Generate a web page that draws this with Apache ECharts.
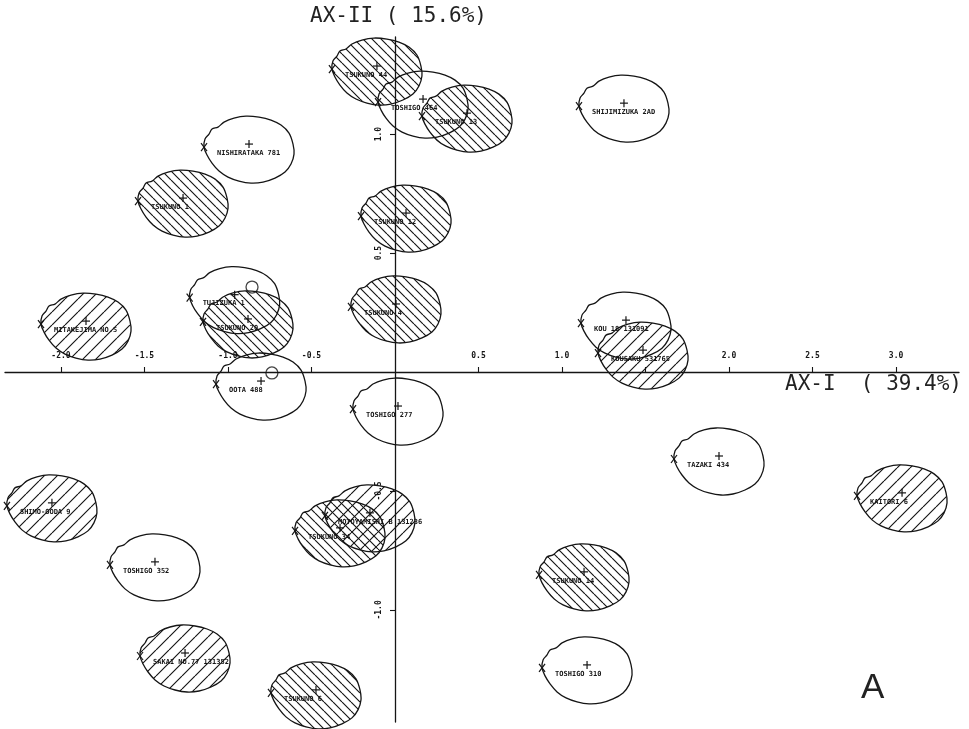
<!DOCTYPE html>
<html>
<head>
<meta charset="utf-8">
<script src="https://cdn.jsdelivr.net/npm/echarts@6/dist/echarts.min.js"></script>
<style>
  html, body { margin: 0; padding: 0; background: #fff; }
  #chart { width: 969px; height: 729px; }
</style>
</head>
<body>
<div id="chart"></div>
<script>
// Specimen scores on the first two principal axes
const specimens = [
  'TSUKUNO 44', 'TOSHIGO 464', 'TSUKUNO 13', 'SHIJIMIZUKA 2AD', 'NISHIRATAKA 781',
  'TSUKUNO 1', 'TSUKUNO 12', 'MITAKEJIMA NO.5', 'TUJIZUKA 1', 'TSUKUNO 20',
  'TSUKUNO 4', 'KOU 18 131091', 'KOUSAKU 531765', 'OOTA 488', 'TOSHIGO 277',
  'TAZAKI 434', 'KAITORI 6', 'SHIMO-OODA 9', 'TSUKUNO 34', 'MOTOYAMISHI B 131236',
  'TOSHIGO 352', 'TSUKUNO 14', 'SAKAI NO.77 131352', 'TOSHIGO 310', 'TSUKUNO 6'
];
const ax1 = [
  -0.108, 0.168, 0.431, 1.371, -0.874,
  -1.269, 0.066, -1.850, -0.960, -0.880,
  0.006, 1.383, 1.485, -0.802, 0.018,
  1.940, 3.036, -2.054, -0.329, -0.150,
  -1.437, 1.132, -1.257, 1.150, -0.473
];
const ax2 = [
  1.286, 1.147, 1.088, 1.130, 0.958,
  0.731, 0.668, 0.214, 0.325, 0.223,
  0.286, 0.218, 0.092, -0.038, -0.143,
  -0.353, -0.508, -0.550, -0.655, -0.592,
  -0.798, -0.840, -1.181, -1.231, -1.336
];
// 1 = Tsukuno group, 2 = other hatched group, 0 = open outline
const groupCode = [
  1, 0, 1, 0, 0,
  1, 1, 2, 0, 1,
  1, 0, 2, 0, 0,
  0, 2, 2, 1, 2,
  0, 1, 2, 0, 1
];
// Small ring markers
const ringAx1 = [-0.856, -0.737];
const ringAx2 = [0.357, -0.004];

const xTickValues = [-2, -1.5, -1, -0.5, 0.5, 1, 1.5, 2, 2.5, 3];
const xLabelValues = [-2, -1.5, -1, -0.5, 0.5, 1, 2, 2.5, 3];
const yTickValues = [-1, -0.5, 0.5, 1];

// Outline drawn around each specimen point (pixel offsets)
const OUTLINE = [
  [-45, 3], [-44, -5], [-40, -10], [-37, -15], [-31, -17], [-25, -22], [-15, -26],
  [-3, -28], [10, -27], [22, -24], [32, -19], [40, -11], [44, 0], [45, 10],
  [42, 20], [36, 28], [26, 34], [14, 38], [2, 39], [-10, 37], [-21, 33],
  [-30, 27], [-37, 19], [-42, 11]
];

function hatch(forward, step) {
  const c = document.createElement('canvas');
  c.width = step; c.height = step;
  const g = c.getContext('2d');
  g.strokeStyle = '#151515';
  g.lineWidth = 1.15;
  g.beginPath();
  for (let k = -1; k <= 1; k++) {
    if (forward) { g.moveTo(k * step, step); g.lineTo(k * step + step, 0); }
    else { g.moveTo(k * step, 0); g.lineTo(k * step + step, step); }
  }
  g.stroke();
  return c;
}
const backFill = { image: hatch(false, 9), repeat: 'repeat' };
const fwdFill = { image: hatch(true, 13), repeat: 'repeat' };

const INK = '#151515';
const TICK_FONT = 'bold 8px "DejaVu Sans Mono"';

function renderSpecimen(params, api) {
  const i = params.dataIndex;
  const p = api.coord([api.value(0), api.value(1)]);
  const cx = p[0], cy = p[1];
  const code = api.value(2);
  const pts = OUTLINE.map(o => [cx + o[0], cy + o[1]]);
  const fill = code === 1 ? backFill : (code === 2 ? fwdFill : 'none');
  const lx = cx - 45, ly = cy + 3;
  const ln = (x1, y1, x2, y2) => ({ type: 'line', shape: { x1, y1, x2, y2 }, style: { stroke: INK, lineWidth: 1.2 } });
  return {
    type: 'group',
    children: [
      { type: 'polygon', shape: { points: pts, smooth: 0.35 },
        style: { fill: fill, stroke: INK, lineWidth: 1.3 } },
      ln(cx - 4, cy, cx + 4, cy),
      ln(cx, cy - 4, cx, cy + 4),
      ln(lx - 3, ly - 4, lx + 3, ly + 4),
      ln(lx - 3, ly + 4, lx + 3, ly - 4),
      { type: 'text', x: cx - 32, y: cy + 9,
        style: { text: specimens[i], font: 'bold 7px "DejaVu Sans Mono"', fill: INK,
                 align: 'left', verticalAlign: 'middle' } }
    ]
  };
}

// Tick labels sit beside the axis lines that cross at the origin
function renderXLabel(params, api) {
  const v = api.value(0);
  const p = api.coord([v, 0]);
  return { type: 'text', x: p[0], y: p[1] - 16,
    style: { text: v.toFixed(1), font: TICK_FONT, fill: INK, align: 'center', verticalAlign: 'middle' } };
}
function renderYLabel(params, api) {
  const v = api.value(1);
  const p = api.coord([0, v]);
  return { type: 'text', x: p[0] - 16, y: p[1], rotation: Math.PI / 2,
    style: { text: v.toFixed(1), font: TICK_FONT, fill: INK, align: 'center', verticalAlign: 'middle' } };
}

const points = ax1.map((v, i) => [v, ax2[i], groupCode[i]]);
const rings = ringAx1.map((v, i) => [v, ringAx2[i]]);

const chart = echarts.init(document.getElementById('chart'), null, { renderer: 'canvas' });
chart.setOption({
  animation: false,
  backgroundColor: '#fff',
  grid: { left: 5, right: 10, top: 37, bottom: 7, containLabel: false, outerBoundsMode: 'none' },
  xAxis: {
    type: 'value', min: -2.335, max: 3.377,
    axisLine: { onZero: true, lineStyle: { color: INK, width: 1.3 } },
    axisTick: { show: true, inside: true, length: 5, customValues: xTickValues, lineStyle: { color: INK, width: 1.1 } },
    axisLabel: { show: false },
    splitLine: { show: false }
  },
  yAxis: {
    type: 'value', min: -1.471, max: 1.408,
    axisLine: { onZero: true, lineStyle: { color: INK, width: 1.3 } },
    axisTick: { show: true, length: 5, customValues: yTickValues, lineStyle: { color: INK, width: 1.1 } },
    axisLabel: { show: false },
    splitLine: { show: false }
  },
  series: [
    { type: 'custom', renderItem: renderSpecimen, data: points, clip: false,
      encode: { x: 0, y: 1 }, z: 3, silent: true },
    { type: 'scatter', data: rings, symbol: 'circle', symbolSize: 12,
      itemStyle: { color: 'rgba(0,0,0,0)', borderColor: INK, borderWidth: 1.3 }, z: 4, silent: true },
    { type: 'custom', renderItem: renderXLabel, data: xLabelValues.map(v => [v, 0]),
      clip: false, encode: { x: 0, y: 1 }, z: 2, silent: true },
    { type: 'custom', renderItem: renderYLabel, data: yTickValues.map(v => [0, v]),
      clip: false, encode: { x: 0, y: 1 }, z: 2, silent: true }
  ],
  graphic: [
    { type: 'text', left: 310, top: 6,
      style: { text: 'AX-II ( 15.6%)', font: '21px "DejaVu Sans Mono"', fill: '#222' } },
    { type: 'text', left: 785, top: 374,
      style: { text: 'AX-I  ( 39.4%)', font: '21px "DejaVu Sans Mono"', fill: '#222' } },
    { type: 'text', left: 861, top: 671,
      style: { text: 'A', font: '35px "Liberation Sans"', fill: '#222' } }
  ]
});
</script>
</body>
</html>
